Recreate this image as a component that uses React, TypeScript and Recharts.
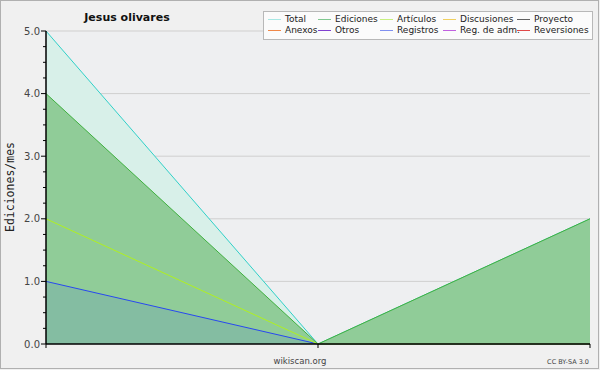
import React from 'react';
import { ComposedChart, Area, Line, XAxis, YAxis, CartesianGrid } from 'recharts';

// monthly edits for the user, oldest first
const periods = ['2013-01', '2013-02', '2013-03'];
const total = [5, 0, 2];
const ediciones = [4, 0, 2];
const articulos = [2, 0, 0];
const registros = [1, 0, 0];

const yTicks = [0, 0.25, 0.5, 0.75, 1, 1.25, 1.5, 1.75, 2, 2.25, 2.5, 2.75, 3, 3.25, 3.5, 3.75, 4, 4.25, 4.5, 4.75, 5];
const gridValues = [1, 2, 3, 4, 5];

const legendNames = ['Total', 'Ediciones', 'Artículos', 'Discusiones', 'Proyecto', 'Anexos', 'Otros', 'Registros', 'Reg. de adm.', 'Reversiones'];
const legendColors = ['#a8e8e4', '#80c890', '#c8f080', '#f0d060', '#606060', '#f08848', '#8040d0', '#8090f0', '#c060e0', '#e04848'];

const data = periods.map((p, i) => ({
  period: p,
  total: total[i],
  ediciones: ediciones[i],
  articulos: articulos[i],
  registros: registros[i],
}));

const FONT = '"DejaVu Sans", Verdana, sans-serif';

const LegendBox = () => {
  const colX = [4, 54, 116, 179, 253];
  return (
    <div style={{
      position: 'absolute', left: 263, top: 11, width: 330, height: 29, background: '#fbfbfb',
      border: '1px solid #b8b8b8', boxSizing: 'border-box', fontFamily: FONT, fontSize: 9, color: '#222',
    }}>
      {legendNames.map((name, i) => {
        const col = i % 5;
        const row = Math.floor(i / 5);
        return (
          <div key={name} style={{ position: 'absolute', left: colX[col], top: 2 + row * 11, display: 'flex', alignItems: 'center', whiteSpace: 'nowrap', lineHeight: '11px' }}>
            <span style={{ display: 'inline-block', width: 13, height: 1, background: legendColors[i], marginRight: 4 }} />
            {name}
          </div>
        );
      })}
    </div>
  );
};

const YTick = (props: any) => {
  const { x, y, payload } = props;
  const major = Number.isInteger(payload.value);
  return (
    <g>
      <line x1={x - (major ? 5 : 3)} x2={x} y1={y} y2={y} stroke="#000" />
      {major && (
        <text x={x - 6} y={y} dy={3.5} textAnchor="end" fontSize={10} fontFamily={FONT} fill="#444">
          {payload.value.toFixed(1)}
        </text>
      )}
    </g>
  );
};

export default function App() {
  return (
    <div style={{ position: 'fixed', left: 0, top: 0, width: 600, height: 370, background: '#f0f0f0' }}>
      <ComposedChart width={600} height={370} data={data} margin={{ top: 31, right: 10, bottom: 10, left: 0 }}>
        <CartesianGrid fill="#eeeff1" stroke="#cfcfcf" vertical={false} horizontalValues={gridValues} />
        <Area type="linear" dataKey="total" stroke="#30d0c8" strokeWidth={1} fill="#d8f0e9" fillOpacity={1} isAnimationActive={false} dot={false} activeDot={false} />
        <Area type="linear" dataKey="ediciones" stroke="#40b040" strokeWidth={1} fill="#90cc98" fillOpacity={1} isAnimationActive={false} dot={false} activeDot={false} />
        <Line type="linear" dataKey="articulos" stroke="#b0f020" strokeWidth={1} dot={false} activeDot={false} isAnimationActive={false} />
        <Area type="linear" dataKey="registros" stroke="#2848f0" strokeWidth={1} fill="#3050f0" fillOpacity={0.12} isAnimationActive={false} dot={false} activeDot={false} />
        <XAxis dataKey="period" height={16} tickFormatter={() => ''} tickSize={4} axisLine={{ stroke: '#000', strokeWidth: 1.5 }} tickLine={{ stroke: '#000' }} padding={{ left: 0, right: 0 }} />
        <YAxis width={46} domain={[0, 5]} ticks={yTicks} interval={0} tick={<YTick />} tickSize={0} tickMargin={0} tickLine={false} axisLine={{ stroke: '#000', strokeWidth: 1.5 }} />
        <text x={127} y={21} textAnchor="middle" fontSize={11} fontWeight="bold" fontFamily={FONT} fill="#111">Jesus olivares</text>
        <text x={14} y={187} transform="rotate(-90 14 187)" textAnchor="middle" fontSize={11.5} fontFamily='"DejaVu Sans Mono", monospace' fill="#222">Ediciones/mes</text>
        <text x={300} y={364} textAnchor="middle" fontSize={8.5} fontFamily={FONT} fill="#444">wikiscan.org</text>
        <text x={589} y={364} textAnchor="end" fontSize={6.5} fontFamily={FONT} fill="#444">CC BY-SA 3.0</text>
      </ComposedChart>
      <LegendBox />
      <div style={{ position: 'absolute', left: 0, top: 0, width: 599, height: 369, border: '1px solid #b0b0b0', boxSizing: 'border-box', pointerEvents: 'none' }} />
    </div>
  );
}
